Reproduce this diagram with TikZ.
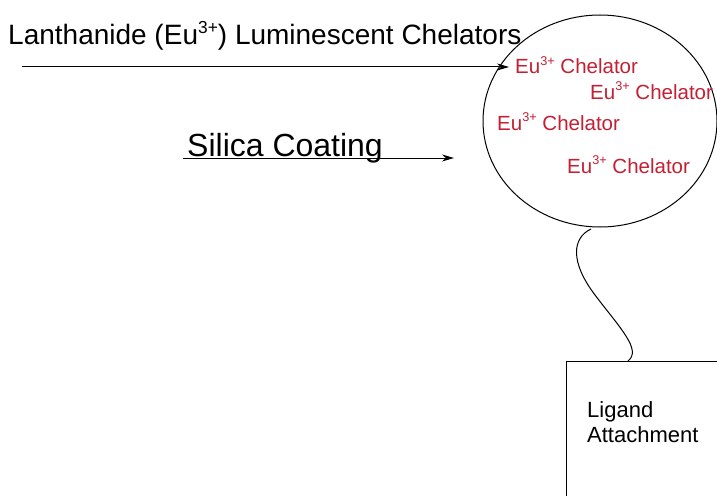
\documentclass[tikz,border=0pt]{standalone}
\usepackage{fontspec}
\setmainfont{Liberation Sans}
\usetikzlibrary{shapes.geometric,arrows.meta}
\definecolor{chelred}{RGB}{196,32,52}
\newcommand\supx[1]{\raisebox{0.42em}{\scalebox{0.62}{#1}}}
\tikzset{
  lbl/.style={anchor=base west,inner sep=0pt,text=black},
  redlbl/.style={anchor=base west,inner sep=0pt,text=chelred,font=\fontsize{20.5}{24}\selectfont},
  thinline/.style={line width=1pt,black},
  arr/.style={thinline,-{Stealth[length=12pt,width=7pt]}}
}
\begin{document}
\begin{tikzpicture}[x=1pt,y=-1pt]
\useasboundingbox (0,0) rectangle (717,495);
\clip (0,0) rectangle (717,495);
\fill[white] (0,0) rectangle (717,495);
% title
\node[lbl,font=\fontsize{28}{32}\selectfont] (title) at (8,45) {Lanthanide (Eu\supx{3+}) Luminescent Chelators};
\coordinate (a1s) at (22,67);
\coordinate (a1e) at (509,67);
\draw[arr] (a1s) -- (a1e);
% silica
\node[lbl,font=\fontsize{32}{36}\selectfont] (silica) at (187,156) {Silica Coating};
\coordinate (a2s) at (183,158);
\coordinate (a2e) at (454,158);
\draw[arr] (a2s) -- (a2e);
% particle
\node[draw,thinline,ellipse,minimum width=234pt,minimum height=212pt,inner sep=0pt] (circ) at (600,121) {};
\node[redlbl] (c1) at (515,74) {Eu\supx{3+} Chelator};
\node[redlbl] (c2) at (590,99) {Eu\supx{3+} Chelator};
\node[redlbl] (c3) at (497,130) {Eu\supx{3+} Chelator};
\node[redlbl] (c4) at (567,173) {Eu\supx{3+} Chelator};
% ligand box
\node[draw,thinline,anchor=north west,minimum width=220pt,minimum height=200pt,inner sep=0pt] (box) at (566,361) {};
\node[lbl,font=\fontsize{22}{25}\selectfont,align=left,anchor=north west] (lig) at (587,401) {Ligand\\Attachment};
% tether
\coordinate (t0) at (591,229);
\draw[thinline] (t0) .. controls (572,238) and (570,262) .. (595,295)
  .. controls (620,328) and (642,350) .. (box.north west -| 628,361);
\end{tikzpicture}
\end{document}
